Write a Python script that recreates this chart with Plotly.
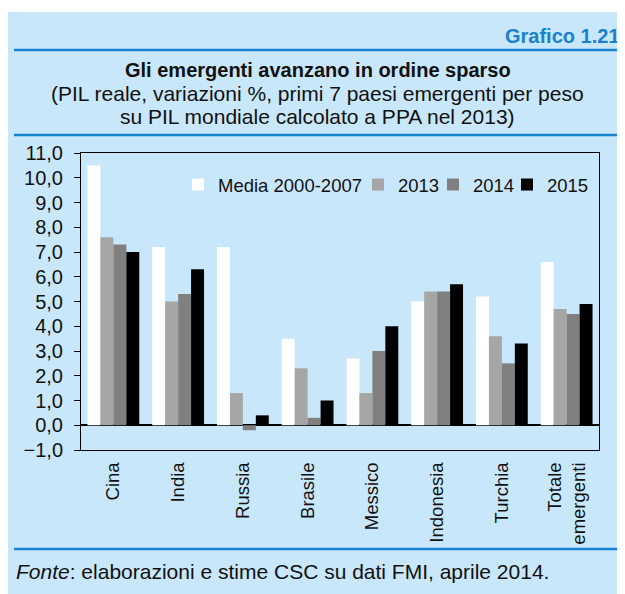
import plotly.graph_objects as go

# ---- data ----
categories = ["Cina", "India", "Russia", "Brasile", "Messico", "Indonesia", "Turchia", "Totale<br>emergenti"]
media_2000_2007 = [10.5, 7.2, 7.2, 3.5, 2.7, 5.0, 5.2, 6.6]
val_2013 = [7.6, 5.0, 1.3, 2.3, 1.3, 5.4, 3.6, 4.7]
val_2014 = [7.3, 5.3, -0.2, 0.3, 3.0, 5.4, 2.5, 4.5]
val_2015 = [7.0, 6.3, 0.4, 1.0, 4.0, 5.7, 3.3, 4.9]
series_names = ["Media 2000-2007", "2013", "2014", "2015"]
series_values = [media_2000_2007, val_2013, val_2014, val_2015]
series_colors = ["#FFFFFF", "#A6A6A6", "#808080", "#000000"]
y_range = [-1, 11]

# ---- layout geometry (screen pixels of the 625x594 page) ----
PAGE_W, PAGE_H = 625, 594
OFF = 8  # default body margin of the html page
W, H = PAGE_W - OFF, PAGE_H - OFF
L, R, T, B = 81, 599, 153, 450
BG = "#C9E7FB"
BLUE = "#1583D0"
FONT = "Liberation Sans, Arial, sans-serif"
TXT = "#111111"
legend_ids = ["legend", "legend2", "legend3", "legend4"]
legend_left_px = [178, 358, 433, 507]


def px2x(px):
    return (px - L) / (R - L)


def py2y(py):
    return (B - py) / (B - T)


fig = go.Figure()
for name, vals, col, lg in zip(series_names, series_values, series_colors, legend_ids):
    fig.add_trace(go.Bar(
        x=categories, y=vals, name=name, legend=lg,
        marker=dict(color=col, line=dict(width=0)),
    ))

shapes = [
    dict(type="rect", xref="paper", yref="paper", x0=px2x(0), x1=px2x(PAGE_W + 5), y0=py2y(12), y1=py2y(0),
         fillcolor="white", line=dict(width=0)),
]
for ly in (50, 135, 549):
    shapes.append(dict(type="line", xref="paper", yref="paper", x0=px2x(14), x1=px2x(PAGE_W + 5),
                       y0=py2y(ly), y1=py2y(ly), line=dict(color=BLUE, width=2.5)))

annotations = [
    dict(text="<b>Grafico 1.21</b>", xref="paper", yref="paper", x=px2x(622), y=py2y(36),
         xanchor="right", yanchor="middle", showarrow=False, font=dict(size=20, color="#1A82CC", family=FONT)),
    dict(text="<b>Gli emergenti avanzano in ordine sparso</b>", xref="paper", yref="paper",
         x=px2x(318), y=py2y(70), xanchor="center", yanchor="middle", showarrow=False,
         font=dict(size=20, color=TXT, family=FONT)),
    dict(text="(PIL reale, variazioni %, primi 7 paesi emergenti per peso", xref="paper", yref="paper",
         x=px2x(317), y=py2y(93), xanchor="center", yanchor="middle", showarrow=False,
         font=dict(size=21, color=TXT, family=FONT)),
    dict(text="su PIL mondiale calcolato a PPA nel 2013)", xref="paper", yref="paper",
         x=px2x(317), y=py2y(116), xanchor="center", yanchor="middle", showarrow=False,
         font=dict(size=21, color=TXT, family=FONT)),
    dict(text="<i>Fonte</i>: elaborazioni e stime CSC su dati FMI, aprile 2014.", xref="paper", yref="paper",
         x=px2x(14), y=py2y(571), xanchor="left", yanchor="middle", showarrow=False,
         font=dict(size=21, color=TXT, family=FONT)),
]

zero_pos = (0 - y_range[0]) / (y_range[1] - y_range[0])
legend_common = dict(orientation="h", xanchor="left", yanchor="top", bgcolor="rgba(0,0,0,0)",
                     font=dict(size=18.5, color=TXT, family=FONT), itemwidth=30)
legends = {lid: dict(x=px2x(lx), y=py2y(166), **legend_common)
           for lid, lx in zip(legend_ids, legend_left_px)}

fig.update_layout(
    width=W, height=H,
    margin=dict(l=L - OFF, r=PAGE_W - R, t=T - OFF, b=PAGE_H - B, pad=0, autoexpand=False),
    paper_bgcolor=BG, plot_bgcolor=BG,
    separators=",.",
    font=dict(family=FONT, size=18, color=TXT),
    barmode="group", bargap=0.2, bargroupgap=0,
    showlegend=True,
    xaxis=dict(type="category", showline=True, linecolor="black", linewidth=1, mirror=True,
               ticks="", tickangle=-90, tickfont=dict(size=18.5, color=TXT), showgrid=False,
               ticklabelstandoff=4),
    xaxis2=dict(overlaying="x", anchor="free", position=zero_pos, type="linear",
                range=[-0.5, len(categories) - 0.5], tickmode="linear", tick0=-0.5, dtick=1,
                ticks="outside", ticklen=5, tickcolor="#555555", tickwidth=1.5,
                showticklabels=False, showline=False, showgrid=False, zeroline=False),
    yaxis=dict(range=y_range, dtick=1, tick0=0, tickformat=".1f", showline=True, linecolor="black",
               linewidth=1, mirror=True, ticks="outside", ticklen=6, tickcolor="black",
               showgrid=False, zeroline=True, zerolinecolor="black", zerolinewidth=1.5,
               tickfont=dict(size=20, color=TXT), ticklabelstandoff=7),
    shapes=shapes,
    annotations=annotations,
    **legends,
)

fig.write_html("out.html")
